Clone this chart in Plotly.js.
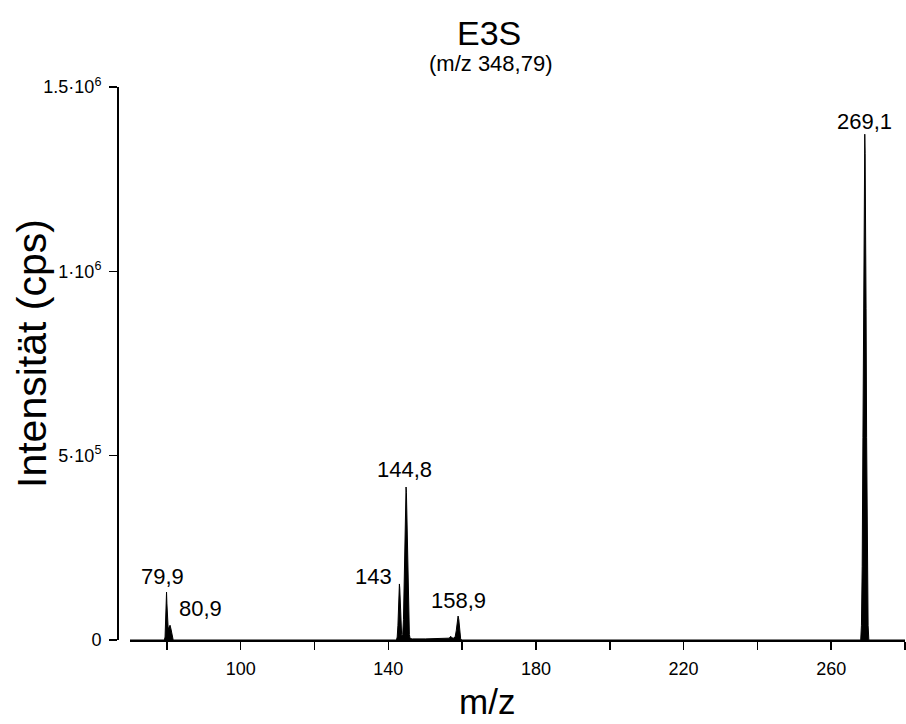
<!DOCTYPE html>
<html>
<head>
<meta charset="utf-8">
<script src="https://cdn.plot.ly/plotly-3.0.1.min.js"></script>
<style>html,body{margin:0;padding:0;background:#fff;}#chart{width:906px;height:724px;}</style>
</head>
<body>
<div id="chart"></div>
<script>
// Spectrum profile (m/z, intensity in cps)
const mz = [70,
  79.3, 79.5, 79.7, 79.8, 79.9, 80.0, 80.15, 80.35, 80.6, 80.85, 81.1, 81.4, 81.7,
  142.2, 142.4, 142.6, 142.8, 142.9, 143.0, 143.1, 143.2, 143.4, 143.6, 143.8,
  143.9, 144.1, 144.3, 144.45, 144.6, 144.7, 144.8, 144.9, 145.0, 145.15, 145.3, 145.5, 145.7, 145.9,
  146.5, 150.0, 154.0, 156.5, 156.9, 157.2, 157.6, 158.1, 158.4, 158.7, 158.9, 159.1, 159.35, 159.6, 159.9,
  268.0, 268.2, 268.4, 268.6, 268.75, 268.9, 269.0, 269.1, 269.2, 269.3, 269.45, 269.6, 269.8, 270.0, 270.2,
  280];
const intensity = [0,
  0, 8000, 50000, 100000, 130000, 100000, 50000, 30000, 35000, 40000, 30000, 10000, 0,
  0, 8000, 40000, 110000, 140000, 152000, 140000, 110000, 45000, 15000, 8000,
  15000, 55000, 150000, 260000, 355000, 400000, 415000, 400000, 355000, 260000, 150000, 55000, 15000, 4000,
  3000, 3000, 3500, 5000, 10000, 6000, 5000, 8000, 25000, 55000, 65000, 55000, 20000, 3000, 0,
  0, 40000, 200000, 550000, 900000, 1200000, 1320000, 1372000, 1320000, 1200000, 900000, 550000, 200000, 40000, 0,
  0];

// Peak labels
const peakLabels = ["79,9", "80,9", "143", "144,8", "158,9", "269,1"];
const peakMz = [79.9, 80.85, 143.0, 144.8, 158.9, 269.1];

const xTickVals = [80, 100, 120, 140, 160, 180, 200, 220, 240, 260, 280];
const xTickText = ["", "100", "", "140", "", "180", "", "220", "", "260", ""];
const yTickVals = [0, 500000, 1000000, 1500000];
const yTickText = ["0", "5·10<sup>5</sup>", "1·10<sup>6</sup>", "1.5·10<sup>6</sup>"];

const titleText = "E3S";
const subtitleText = "(m/z 348,79)";
const xTitle = "m/z";
const yTitle = "Intensität (cps)";

const FONT = "Liberation Sans, Arial, Helvetica, sans-serif";

function peakHeight(x) {
  let best = 0;
  for (let i = 0; i < mz.length; i++) if (Math.abs(mz[i] - x) < 0.03) best = Math.max(best, intensity[i]);
  return best;
}

// placement of labels relative to their peaks
const labelStyle = {
  "79,9": {xanchor: "center", xshift: -4, yshift: 1},
  "80,9": {xanchor: "left", xshift: 7, yshift: 2},
  "143": {xanchor: "right", xshift: -5, yshift: -7},
  "144,8": {xanchor: "center", xshift: -2, yshift: 3},
  "158,9": {xanchor: "center", xshift: 0, yshift: 1},
  "269,1": {xanchor: "center", xshift: 0, yshift: -2}
};

const annotations = peakLabels.map((t, i) => Object.assign({
  x: peakMz[i], y: peakHeight(peakMz[i]), xref: "x", yref: "y",
  text: t, showarrow: false, yanchor: "bottom",
  font: {family: FONT, size: 22, color: "#000"}
}, labelStyle[t]));

const L = 117, R = 1, W = 906 - L - R, T = 87, B = 84, H = 724 - T - B;
annotations.push({xref: "paper", yref: "paper", x: (489 - L) / W, y: 1, yshift: T - 33,
  text: titleText, showarrow: false, xanchor: "center", yanchor: "middle",
  font: {family: FONT, size: 34, color: "#000"}});
annotations.push({xref: "paper", yref: "paper", x: (491 - L) / W, y: 1, yshift: T - 63,
  text: subtitleText, showarrow: false, xanchor: "center", yanchor: "middle",
  font: {family: FONT, size: 22, color: "#000"}});
annotations.push({xref: "paper", yref: "paper", x: (487 - L) / W, y: 0, yshift: -(701 - (724 - B)),
  text: xTitle, showarrow: false, xanchor: "center", yanchor: "middle",
  font: {family: FONT, size: 35, color: "#000"}});
annotations.push({xref: "paper", yref: "paper", x: 0, xshift: -(L - 32), y: (724 - B - 354) / H,
  text: yTitle, showarrow: false, xanchor: "center", yanchor: "middle", textangle: -90,
  font: {family: FONT, size: 41, color: "#000"}});

const trace = {
  x: mz, y: intensity, type: "scatter", mode: "lines",
  line: {color: "#000", width: 1}, fill: "tozeroy", fillcolor: "#000",
  hoverinfo: "x+y"
};

const layout = {
  width: 906, height: 724,
  margin: {l: L, r: R, t: T, b: B},
  paper_bgcolor: "#fff", plot_bgcolor: "#fff",
  showlegend: false,
  font: {family: FONT, color: "#000"},
  xaxis: {
    domain: [13 / W, 1], range: [70, 280],
    tickmode: "array", tickvals: xTickVals, ticktext: xTickText,
    ticks: "outside", ticklen: 8, tickwidth: 1.5, tickcolor: "#000",
    showline: true, linecolor: "#000", linewidth: 1.5,
    showgrid: false, zeroline: false, ticklabelstandoff: 4,
    tickfont: {family: FONT, size: 18, color: "#000"}
  },
  yaxis: {
    anchor: "free", position: 0, range: [0, 1500000],
    tickmode: "array", tickvals: yTickVals, ticktext: yTickText,
    ticks: "outside", ticklen: 8, tickwidth: 1.5, tickcolor: "#000",
    showline: true, linecolor: "#000", linewidth: 1.5,
    showgrid: false, zeroline: false, ticklabelstandoff: 4,
    tickfont: {family: FONT, size: 18, color: "#000"}
  },
  annotations: annotations
};

Plotly.newPlot("chart", [trace], layout, {displayModeBar: false, staticPlot: true});
</script>
</body>
</html>
